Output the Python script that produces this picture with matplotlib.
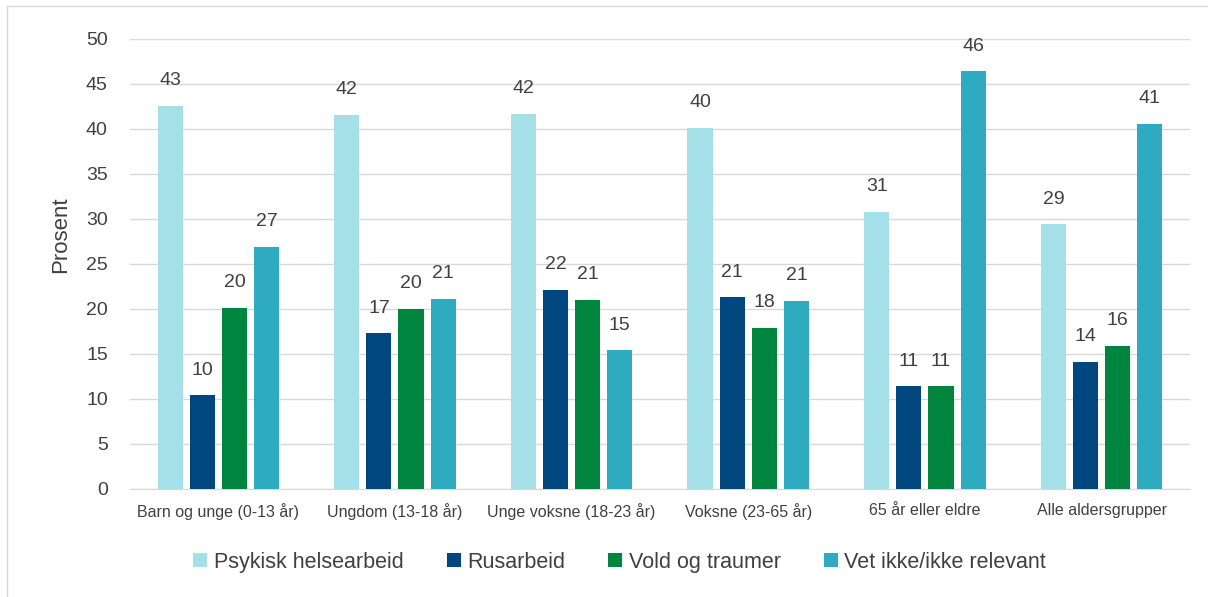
import matplotlib.pyplot as plt
import numpy as np
from matplotlib.patches import Rectangle

plt.rcParams['font.family'] = ['Liberation Sans', 'DejaVu Sans']

grupper = ['Barn og unge (0-13 år)', 'Ungdom (13-18 år)', 'Unge voksne (18-23 år)',
           'Voksne (23-65 år)', '65 år eller eldre', 'Alle aldersgrupper']
serier = ['Psykisk helsearbeid', 'Rusarbeid', 'Vold og traumer', 'Vet ikke/ikke relevant']
psykisk = [42.6, 41.6, 41.7, 40.1, 30.8, 29.4]
rus = [10.4, 17.3, 22.1, 21.3, 11.4, 14.1]
vold = [20.1, 20.0, 21.0, 17.9, 11.4, 15.9]
vet_ikke = [26.9, 21.1, 15.4, 20.9, 46.4, 40.6]
farger = ['#a5dfe8', '#00467f', '#00853e', '#2eaac1']

fig = plt.figure(figsize=(12.08, 5.97), dpi=100)
ax = fig.add_axes([0.1076, 0.181, 0.8774, 0.7537])

x = np.arange(len(grupper))
bredde = 0.142
steg = 0.182
for i, (navn, verdier) in enumerate(zip(serier, [psykisk, rus, vold, vet_ikke])):
    pos = x + (i - 1.5) * steg
    b = ax.bar(pos, verdier, bredde, color=farger[i], label=navn, zorder=3)
    ax.bar_label(b, labels=['%.0f' % v for v in verdier], padding=12,
                 fontsize=14, color='#404040')

ax.set_xlim(-0.5, len(grupper) - 0.5)
ax.set_ylim(0, 50)
ax.set_yticks(range(0, 51, 5))
ax.set_xticks(x)
ax.set_xticklabels(grupper, fontsize=11.5, color='#404040')
ax.tick_params(axis='y', labelsize=14, colors='#404040', length=0, pad=16)
ax.tick_params(axis='x', length=0, pad=10)
ax.grid(axis='y', color='#d9d9d9', linewidth=1, zorder=0)
for s in ['top', 'right', 'left']:
    ax.spines[s].set_visible(False)
ax.spines['bottom'].set_color('#d9d9d9')
ax.set_ylabel('Prosent', fontsize=16, color='#404040')
ax.yaxis.set_label_coords(-0.056, 0.564)

fig.legend(loc='center', bbox_to_anchor=(0.513, 0.058), ncol=4, frameon=False,
           fontsize=15.5, handlelength=0.65, handleheight=0.65, handletextpad=0.3,
           columnspacing=2.0, labelcolor='#404040')

fig.patches.append(Rectangle((0.006, -0.01), 1.0, 1.0, transform=fig.transFigure,
                             fill=False, edgecolor='#d9d9d9', linewidth=1))

fig.savefig('out.png', dpi=100)
